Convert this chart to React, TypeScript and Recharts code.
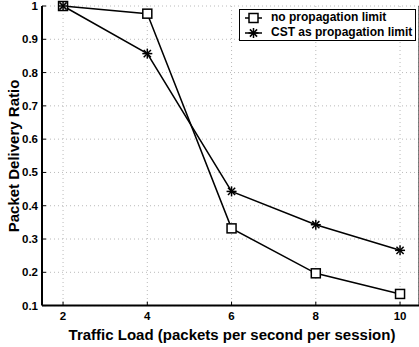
import React from 'react';
import { LineChart, Line, XAxis, YAxis, CartesianGrid, ReferenceLine } from 'recharts';

const loads = [2, 4, 6, 8, 10];
const noLimit = [1.0, 0.977, 0.332, 0.197, 0.135];
const cstLimit = [1.0, 0.857, 0.443, 0.343, 0.266];
const xTicks = [2, 4, 6, 8, 10];
const yTicks = [0.1, 0.2, 0.3, 0.4, 0.5, 0.6, 0.7, 0.8, 0.9, 1];
const seriesNames = ['no propagation limit', 'CST as propagation limit'];

const data = loads.map((x, i) => ({ x, noLimit: noLimit[i], cst: cstLimit[i] }));

const FONT = '"Liberation Sans", Arial, Helvetica, sans-serif';

function SquareDot(props: any) {
  const { cx, cy } = props;
  if (cx == null || cy == null) return null;
  return <rect x={cx - 4.5} y={cy - 4.5} width={9} height={9} fill="#fff" stroke="#000" strokeWidth={1.5} />;
}

function StarDot(props: any) {
  const { cx, cy } = props;
  if (cx == null || cy == null) return null;
  const r = 5;
  const d = 3.6;
  return (
    <g stroke="#000" strokeWidth={1.5}>
      <line x1={cx - r} y1={cy} x2={cx + r} y2={cy} />
      <line x1={cx} y1={cy - r} x2={cx} y2={cy + r} />
      <line x1={cx - d} y1={cy - d} x2={cx + d} y2={cy + d} />
      <line x1={cx - d} y1={cy + d} x2={cx + d} y2={cy - d} />
    </g>
  );
}

function XTick(props: any) {
  const { x, y, payload } = props;
  return (
    <g>
      <line x1={x} y1={y} x2={x} y2={y - 4} stroke="#000" strokeWidth={1} />
      <text x={x} y={y + 14} textAnchor="middle" fontFamily={FONT} fontWeight="bold" fontSize={11.5} fill="#000">
        {payload.value}
      </text>
    </g>
  );
}

function TopTick(props: any) {
  const { x, y } = props;
  return <line x1={x} y1={y} x2={x} y2={y + 4} stroke="#000" strokeWidth={1} />;
}

function YTick(props: any) {
  const { x, y, payload } = props;
  const v = payload.value === 1 ? '1' : Number(payload.value).toFixed(1);
  return (
    <g>
      <line x1={x} y1={y} x2={x + 4} y2={y} stroke="#000" strokeWidth={1} />
      <text x={x - 4} y={y + 4} textAnchor="end" fontFamily={FONT} fontWeight="bold" fontSize={11.5} fill="#000">
        {v}
      </text>
    </g>
  );
}

function LegendBox() {
  const row = (label: string, star: boolean) => (
    <div style={{ display: 'flex', alignItems: 'center', height: 15 }}>
      <svg width={28} height={14} style={{ flex: 'none' }}>
        <line x1={5} y1={7} x2={22} y2={7} stroke="#000" strokeWidth={1.5} />
        {star ? <StarDot cx={13.5} cy={7} /> : <SquareDot cx={13.5} cy={7} />}
      </svg>
      <span style={{ marginLeft: 3, fontFamily: FONT, fontWeight: 'bold', fontSize: 12, whiteSpace: 'nowrap' }}>{label}</span>
    </div>
  );
  return (
    <div
      style={{
        position: 'absolute',
        left: 239,
        top: 9,
        width: 177,
        height: 32,
        border: '1px solid #000',
        background: '#fff',
        boxSizing: 'border-box',
        paddingTop: 0,
        lineHeight: '15px',
      }}
    >
      {row(seriesNames[0], false)}
      {row(seriesNames[1], true)}
    </div>
  );
}

export default function App() {
  return (
    <div style={{ position: 'absolute', left: 0, top: 0, width: 419, height: 347, background: '#fff' }}>
      <LineChart width={419} height={347} data={data} margin={{ top: 6, right: 0, bottom: 0, left: 0 }}>
        <CartesianGrid stroke="#a8a8a8" strokeDasharray="1 3" strokeWidth={0.8} />
        <XAxis
          dataKey="x"
          type="number"
          domain={[1.5, 10.45]}
          ticks={xTicks}
          height={41.4}
          tickSize={0}
          tickMargin={0}
          tick={<XTick />}
          axisLine={{ stroke: '#000', strokeWidth: 2 }}
          interval={0}
          label={{
            content: () => (
              <text x={232} y={340} textAnchor="middle" fontFamily={FONT} fontWeight="bold" fontSize={15} fill="#000">
                Traffic Load (packets per second per session)
              </text>
            ),
          }}
        />
        <XAxis
          xAxisId="top"
          dataKey="x"
          type="number"
          orientation="top"
          domain={[1.5, 10.45]}
          ticks={xTicks}
          height={0}
          tickSize={0}
          tickMargin={0}
          tick={<TopTick />}
          axisLine={{ stroke: '#000', strokeWidth: 1 }}
          interval={0}
        />
        <YAxis
          type="number"
          domain={[0.1, 1]}
          ticks={yTicks}
          width={42}
          tickSize={0}
          tickMargin={0}
          tick={<YTick />}
          axisLine={{ stroke: '#000', strokeWidth: 2 }}
          interval={0}
          label={{
            content: () => (
              <text
                x={18.5}
                y={156}
                transform="rotate(-90 18.5 156)"
                textAnchor="middle"
                fontFamily={FONT}
                fontWeight="bold"
                fontSize={15}
                fill="#000"
              >
                Packet Delivery Ratio
              </text>
            ),
          }}
        />
        <ReferenceLine x={10.45} stroke="#000" strokeWidth={1} />
        <Line
          dataKey="noLimit"
          name={seriesNames[0]}
          stroke="#000"
          strokeWidth={1.5}
          dot={<SquareDot />}
          activeDot={false}
          isAnimationActive={false}
        />
        <Line
          dataKey="cst"
          name={seriesNames[1]}
          stroke="#000"
          strokeWidth={1.5}
          dot={<StarDot />}
          activeDot={false}
          isAnimationActive={false}
        />
      </LineChart>
      <LegendBox />
    </div>
  );
}
